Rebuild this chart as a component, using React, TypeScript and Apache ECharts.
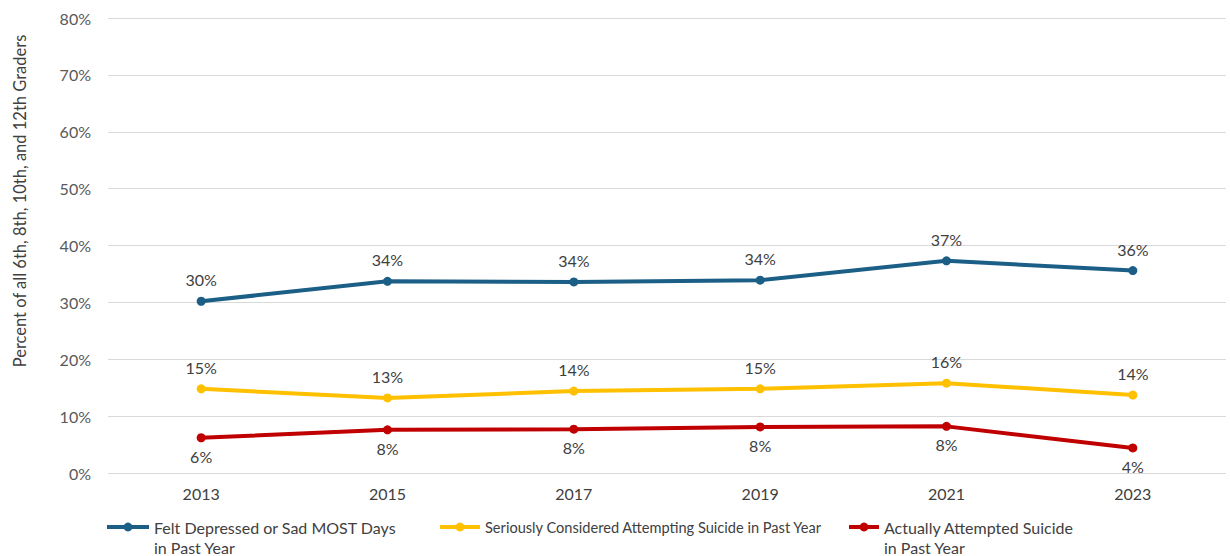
import React, { useEffect, useRef } from "react";
import * as echarts from "echarts";

const years = ["2013", "2015", "2017", "2019", "2021", "2023"];
const depressed = [30.2, 33.7, 33.6, 33.9, 37.3, 35.6];
const considered = [14.8, 13.2, 14.4, 14.8, 15.8, 13.7];
const attempted = [6.2, 7.6, 7.7, 8.1, 8.2, 4.4];
const seriesNames = [
  "Felt Depressed or Sad MOST Days\nin Past Year",
  "Seriously Considered Attempting Suicide in Past Year",
  "Actually Attempted Suicide\nin Past Year",
];
const yAxisTitle = "Percent of all 6th, 8th, 10th, and 12th Graders";
const colors = ["#1b5e86", "#ffc000", "#c00000"];
const yTicks = { min: 0, max: 80, interval: 10 };

const FONT = "Lato, 'Open Sans', sans-serif";

export default function App() {
  const ref = useRef<HTMLDivElement>(null);
  useEffect(() => {
    if (!ref.current) return;
    const chart = echarts.init(ref.current, undefined, { renderer: "svg" });
    const fmt = (p: any) => Math.round(p.value) + "%";
    const mkSeries = (name: string, data: number[], color: string, pos: string) => ({
      name,
      type: "line",
      data,
      symbol: "circle",
      symbolSize: 9,
      itemStyle: { color },
      lineStyle: { color, width: 4 },
      label: {
        show: true,
        position: pos,
        distance: pos === "top" ? 9 : 6,
        formatter: fmt,
        color: "#404040",
        fontSize: 16,
        fontFamily: FONT,
      },
    });
    const legendText = { color: "#404040", fontSize: 16, fontFamily: FONT, lineHeight: 20 };
    const common = { padding: 0, itemHeight: 11, lineStyle: { width: 4 }, textStyle: legendText };
    chart.setOption({
      animation: false,
      grid: { left: 108, right: 4, top: 18, bottom: 83, containLabel: false },
      legend: [
        {
          ...common,
          data: [seriesNames[0]],
          left: 105,
          top: 497,
          itemWidth: 42,
          formatter: (n: string) => "\n" + n,
        },
        {
          ...common,
          data: [seriesNames[1]],
          left: 438,
          top: 517,
          itemWidth: 40,
          textStyle: { ...legendText, fontSize: 14.6 },
        },
        {
          ...common,
          data: [seriesNames[2]],
          left: 847,
          top: 497,
          itemWidth: 30,
          formatter: (n: string) => "\n" + n,
        },
      ],
      graphic: [
        {
          type: "text",
          x: 20,
          y: 201,
          rotation: Math.PI / 2,
          style: {
            text: yAxisTitle,
            align: "center",
            verticalAlign: "middle",
            fill: "#404040",
            fontSize: 16.5,
            fontFamily: FONT,
          },
        },
      ],
      xAxis: {
        type: "category",
        data: years,
        boundaryGap: true,
        axisLine: { show: false },
        axisTick: { show: false },
        axisLabel: { color: "#404040", fontSize: 16, fontFamily: FONT, margin: 12 },
      },
      yAxis: {
        type: "value",
        min: yTicks.min,
        max: yTicks.max,
        interval: yTicks.interval,
        axisLine: { show: false },
        axisTick: { show: false },
        axisLabel: {
          color: "#595959",
          fontSize: 16,
          fontFamily: FONT,
          margin: 17,
          formatter: (v: number) => v + "%",
        },
        splitLine: { lineStyle: { color: "#d9d9d9", width: 1 } },
      },
      series: [
        mkSeries(seriesNames[0], depressed, colors[0], "top"),
        mkSeries(seriesNames[1], considered, colors[1], "top"),
        mkSeries(seriesNames[2], attempted, colors[2], "bottom"),
      ],
    });
    return () => chart.dispose();
  }, []);
  return <div ref={ref} style={{ width: 1230, height: 556, position: "absolute", left: 0, top: 0, background: "#fff" }} />;
}
